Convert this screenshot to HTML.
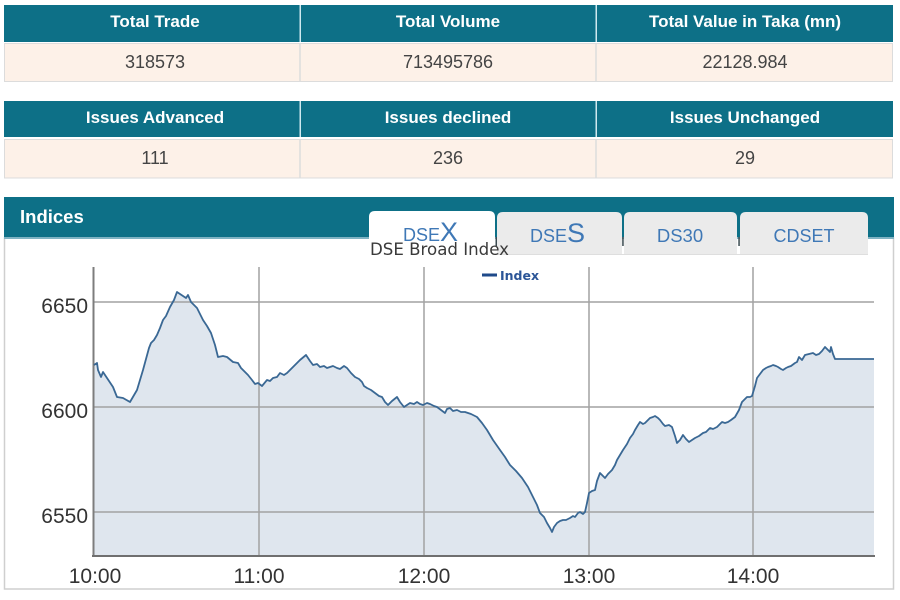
<!DOCTYPE html>
<html>
<head>
<meta charset="utf-8">
<style>
html,body{margin:0;padding:0;background:#fff;}
body{width:900px;height:600px;overflow:hidden;}
svg{display:block;}
.hd{font-family:"Liberation Sans",Arial,sans-serif;font-weight:bold;font-size:17px;fill:#fff;}
.dt{font-family:"Liberation Sans",Arial,sans-serif;font-size:18px;fill:#444;}
.tk{font-family:"Liberation Sans",Arial,sans-serif;font-size:21px;fill:#333;}
.tab{font-family:"Liberation Sans",Arial,sans-serif;fill:#3f78b6;}
</style>
</head>
<body>
<svg width="900" height="600" viewBox="0 0 900 600" xmlns="http://www.w3.org/2000/svg">
  <rect x="0" y="0" width="900" height="600" fill="#fff"/>

  <!-- Table 1 -->
  <rect x="4" y="5" width="889" height="37" fill="#0d7087"/>
  <rect x="299.5" y="5" width="1.5" height="37" fill="#cfe9ef"/>
  <rect x="595.5" y="5" width="1.5" height="37" fill="#cfe9ef"/>
  <rect x="4.5" y="43.5" width="888" height="38" fill="#fdf1e8" stroke="#dcdcdc" stroke-width="1"/>
  <line x1="300" y1="43" x2="300" y2="82" stroke="#dcdcdc" stroke-width="1.5"/>
  <line x1="596" y1="43" x2="596" y2="82" stroke="#dcdcdc" stroke-width="1.5"/>
  <text class="hd" x="155" y="27" text-anchor="middle">Total Trade</text>
  <text class="hd" x="448" y="27" text-anchor="middle">Total Volume</text>
  <text class="hd" x="745" y="27" text-anchor="middle">Total Value in Taka (mn)</text>
  <text class="dt" x="155" y="68" text-anchor="middle">318573</text>
  <text class="dt" x="448" y="68" text-anchor="middle">713495786</text>
  <text class="dt" x="745" y="68" text-anchor="middle">22128.984</text>

  <!-- Table 2 -->
  <rect x="4" y="101" width="889" height="36" fill="#0d7087"/>
  <rect x="299.5" y="101" width="1.5" height="36" fill="#cfe9ef"/>
  <rect x="595.5" y="101" width="1.5" height="36" fill="#cfe9ef"/>
  <rect x="4.5" y="139.5" width="888" height="38.5" fill="#fdf1e8" stroke="#dcdcdc" stroke-width="1"/>
  <line x1="300" y1="139" x2="300" y2="178" stroke="#dcdcdc" stroke-width="1.5"/>
  <line x1="596" y1="139" x2="596" y2="178" stroke="#dcdcdc" stroke-width="1.5"/>
  <text class="hd" x="155" y="123" text-anchor="middle">Issues Advanced</text>
  <text class="hd" x="448" y="123" text-anchor="middle">Issues declined</text>
  <text class="hd" x="745" y="123" text-anchor="middle">Issues Unchanged</text>
  <text class="dt" x="155" y="164" text-anchor="middle">111</text>
  <text class="dt" x="448" y="164" text-anchor="middle">236</text>
  <text class="dt" x="745" y="164" text-anchor="middle">29</text>

  <!-- Chart container -->
  <rect x="4.5" y="238" width="889" height="351" fill="#fff" stroke="#cfcfcf" stroke-width="1.5"/>

  <!-- Indices bar -->
  <rect x="4" y="197" width="890" height="40" fill="#0d7087"/>
  <rect x="4" y="237" width="890" height="2" fill="#7fb3c3"/>
  <text x="20" y="223" font-family="Liberation Sans, Arial, sans-serif" font-weight="bold" font-size="18.5" fill="#fff">Indices</text>

  <!-- Tabs -->
  <path d="M369,239 L369,217 Q369,211 375,211 L489,211 Q495,211 495,217 L495,239 Z" fill="#fff"/>
  <path d="M497,254 L497,218 Q497,212 503,212 L616,212 Q622,212 622,218 L622,254 Z" fill="#ebebeb"/>
  <path d="M624,254 L624,218 Q624,212 630,212 L731,212 Q737,212 737,218 L737,254 Z" fill="#ebebeb"/>
  <path d="M740,254 L740,218 Q740,212 746,212 L862,212 Q868,212 868,218 L868,254 Z" fill="#ebebeb"/>
  <line x1="497" y1="254.5" x2="868" y2="254.5" stroke="#dedede" stroke-width="1"/>
  <rect x="495.5" y="237" width="1.5" height="9" fill="#3a4a50"/>
  <rect x="622.2" y="237" width="1.5" height="9" fill="#3a4a50"/>
  <rect x="738.3" y="237" width="1.5" height="9" fill="#3a4a50"/>

  <text class="tab" x="403" y="241" font-size="18">DSE<tspan font-size="27">X</tspan></text>
  <text class="tab" x="530" y="242" font-size="18">DSE<tspan font-size="27">S</tspan></text>
  <text class="tab" x="680" y="242" font-size="18.5" text-anchor="middle">DS30</text>
  <text class="tab" x="804" y="242" font-size="18" text-anchor="middle">CDSET</text>

  <!-- Title -->
  <text x="370" y="255" font-family="DejaVu Sans, Verdana, sans-serif" font-size="16.8" fill="#3a3a3a" textLength="139" lengthAdjust="spacingAndGlyphs">DSE Broad Index</text>

  <!-- Legend -->
  <line x1="482" y1="275" x2="497" y2="275" stroke="#1f4a8a" stroke-width="3"/>
  <text x="500" y="280" font-family="DejaVu Sans, Verdana, sans-serif" font-weight="bold" font-size="12.5" fill="#2b5597">Index</text>

  <!-- Area fill -->
  <path fill="#dfe6ee" stroke="none" d="M93,556 L94,365 97,363 98,370 101,377 103,372 107,378 113,387 117,397 123,398 130,402 137,390 143,370 149,348 151,343 154,340 157,335 160,328 163,320 166,316 170,307 174,300 177,292 183,296 186,298 188,295 191,302 197,308 203,320 207,326 211,333 215,345 218,357 223,356 227,357 233,362 238,363 241,368 248,375 252,380 255,384 258,383 262,386 267,380 270,381 273,378 277,377 280,373 284,375 287,373 293,367 300,360 306,355 310,361 313,365 317,364 320,367 324,366 327,368 333,366 337,368 340,369 344,366 347,368 351,373 355,377 359,379 362,382 364,386 367,388 371,390 375,393 379,396 382,397 385,402 388,405 392,401 397,397 400,402 404,407 407,405 410,403 414,404 417,402 420,404 423,405 427,403 430,404 434,406 437,407 441,410 445,413 447,409 450,408 453,411 457,410 461,412 465,412 471,414 477,417 482,423 487,430 493,440 500,450 505,457 510,465 516,471 522,478 528,487 533,497 537,505 540,513 544,517 547,523 550,528 552,532 554,527 557,523 560,521 563,520 566,520 570,518 573,516 575,517 578,513 580,512 583,514 585,512 587,503 589,493 592,491 595,490 597,481 600,473 603,476 605,478 608,474 612,470 615,465 617,460 620,455 623,450 627,444 630,438 633,434 635,430 638,425 640,422 643,424 645,423 648,420 650,418 653,417 655,416 658,418 660,420 663,424 665,426 669,425 672,427 675,436 677,443 680,440 683,435 686,439 689,442 692,440 695,438 699,436 703,433 706,432 710,428 713,429 717,427 720,424 722,422 725,423 728,422 731,420 735,417 739,410 742,402 745,399 747,397 750,397 752,396 755,386 757,378 760,374 763,370 766,368 768,367 771,366 773,365 776,366 778,367 781,369 783,370 786,368 788,367 791,366 795,363 797,362 799,357 802,360 805,355 809,354 813,353 816,355 819,354 822,351 825,347 828,350 830,352 831,347 833,354 835,359 874,359 L874,556 Z"/>

  <!-- Grid lines -->
  <g stroke="#a2a2a2" stroke-width="1.5" fill="none">
    <line x1="93" y1="302" x2="874" y2="302"/>
    <line x1="93" y1="407" x2="874" y2="407"/>
    <line x1="93" y1="512" x2="874" y2="512"/>
    <line x1="259" y1="267" x2="259" y2="556"/>
    <line x1="424" y1="267" x2="424" y2="556"/>
    <line x1="589" y1="267" x2="589" y2="556"/>
    <line x1="753" y1="267" x2="753" y2="556"/>
  </g>
  <!-- Axes -->
  <line x1="93.5" y1="267" x2="93.5" y2="557" stroke="#7d7d7d" stroke-width="2"/>
  <line x1="92" y1="556" x2="875" y2="556" stroke="#6f6f6f" stroke-width="2"/>

  <!-- Series line -->
  <polyline fill="none" stroke="#3a6894" stroke-width="1.8" stroke-linejoin="round" points="94,365 97,363 98,370 101,377 103,372 107,378 113,387 117,397 123,398 130,402 137,390 143,370 149,348 151,343 154,340 157,335 160,328 163,320 166,316 170,307 174,300 177,292 183,296 186,298 188,295 191,302 197,308 203,320 207,326 211,333 215,345 218,357 223,356 227,357 233,362 238,363 241,368 248,375 252,380 255,384 258,383 262,386 267,380 270,381 273,378 277,377 280,373 284,375 287,373 293,367 300,360 306,355 310,361 313,365 317,364 320,367 324,366 327,368 333,366 337,368 340,369 344,366 347,368 351,373 355,377 359,379 362,382 364,386 367,388 371,390 375,393 379,396 382,397 385,402 388,405 392,401 397,397 400,402 404,407 407,405 410,403 414,404 417,402 420,404 423,405 427,403 430,404 434,406 437,407 441,410 445,413 447,409 450,408 453,411 457,410 461,412 465,412 471,414 477,417 482,423 487,430 493,440 500,450 505,457 510,465 516,471 522,478 528,487 533,497 537,505 540,513 544,517 547,523 550,528 552,532 554,527 557,523 560,521 563,520 566,520 570,518 573,516 575,517 578,513 580,512 583,514 585,512 587,503 589,493 592,491 595,490 597,481 600,473 603,476 605,478 608,474 612,470 615,465 617,460 620,455 623,450 627,444 630,438 633,434 635,430 638,425 640,422 643,424 645,423 648,420 650,418 653,417 655,416 658,418 660,420 663,424 665,426 669,425 672,427 675,436 677,443 680,440 683,435 686,439 689,442 692,440 695,438 699,436 703,433 706,432 710,428 713,429 717,427 720,424 722,422 725,423 728,422 731,420 735,417 739,410 742,402 745,399 747,397 750,397 752,396 755,386 757,378 760,374 763,370 766,368 768,367 771,366 773,365 776,366 778,367 781,369 783,370 786,368 788,367 791,366 795,363 797,362 799,357 802,360 805,355 809,354 813,353 816,355 819,354 822,351 825,347 828,350 830,352 831,347 833,354 835,359 874,359"/>

  <!-- Y tick labels -->
  <text class="tk" x="88" y="313" text-anchor="end">6650</text>
  <text class="tk" x="88" y="418" text-anchor="end">6600</text>
  <text class="tk" x="88" y="523" text-anchor="end">6550</text>

  <!-- X tick labels -->
  <text class="tk" x="95" y="583" text-anchor="middle">10:00</text>
  <text class="tk" x="259" y="583" text-anchor="middle">11:00</text>
  <text class="tk" x="424" y="583" text-anchor="middle">12:00</text>
  <text class="tk" x="589" y="583" text-anchor="middle">13:00</text>
  <text class="tk" x="753" y="583" text-anchor="middle">14:00</text>
</svg>
</body>
</html>
